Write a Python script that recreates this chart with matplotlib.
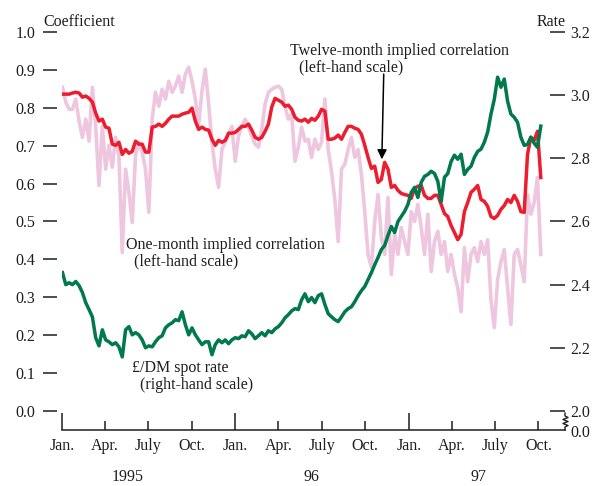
import matplotlib
matplotlib.use("Agg")
import matplotlib.pyplot as plt
import matplotlib.dates as mdates
import numpy as np
import pandas as pd

plt.rcParams['font.family'] = ['Liberation Serif', 'DejaVu Serif']
plt.rcParams['font.size'] = 11.5

# weekly observations, Jan. 1995 - Oct. 1997
weeks = pd.date_range('1995-01-02', periods=145, freq='7D')

# twelve-month implied correlation (left-hand scale)
twelve_month = [
    0.836, 0.836, 0.836, 0.839, 0.841, 0.839, 0.828, 0.831, 0.825, 0.815,
    0.786, 0.765, 0.770, 0.749, 0.746, 0.704, 0.701, 0.709, 0.677, 0.690,
    0.680, 0.685, 0.712, 0.704, 0.704, 0.683, 0.683, 0.749, 0.751, 0.757,
    0.751, 0.759, 0.770, 0.778, 0.778, 0.778, 0.783, 0.786, 0.788, 0.799,
    0.765, 0.743, 0.749, 0.743, 0.741, 0.717, 0.701, 0.714, 0.709, 0.714,
    0.733, 0.733, 0.735, 0.743, 0.751, 0.751, 0.757, 0.741, 0.722, 0.717,
    0.722, 0.738, 0.757, 0.802, 0.825, 0.820, 0.815, 0.804, 0.807, 0.796,
    0.775, 0.767, 0.765, 0.770, 0.762, 0.772, 0.767, 0.778, 0.796, 0.791,
    0.717, 0.717, 0.720, 0.728, 0.717, 0.735, 0.751, 0.751, 0.746, 0.743,
    0.730, 0.701, 0.669, 0.640, 0.646, 0.603, 0.611, 0.656, 0.638, 0.590,
    0.595, 0.582, 0.574, 0.571, 0.569, 0.561, 0.587, 0.593, 0.595, 0.569,
    0.561, 0.561, 0.569, 0.569, 0.545, 0.521, 0.513, 0.489, 0.471, 0.452,
    0.466, 0.526, 0.550, 0.577, 0.585, 0.595, 0.558, 0.553, 0.540, 0.513,
    0.508, 0.516, 0.532, 0.542, 0.558, 0.550, 0.569, 0.553, 0.526, 0.524,
    0.677, 0.722, 0.714, 0.738, 0.616,
]

# one-month implied correlation (left-hand scale)
one_month = [
    0.854, 0.815, 0.796, 0.796, 0.823, 0.765, 0.722, 0.770, 0.712, 0.854,
    0.751, 0.595, 0.751, 0.638, 0.701, 0.643, 0.722, 0.672, 0.418, 0.638,
    0.577, 0.497, 0.677, 0.709, 0.683, 0.638, 0.524, 0.770, 0.841, 0.804,
    0.849, 0.823, 0.870, 0.841, 0.857, 0.884, 0.841, 0.889, 0.907, 0.870,
    0.823, 0.757, 0.844, 0.902, 0.810, 0.709, 0.638, 0.590, 0.690, 0.709,
    0.730, 0.751, 0.659, 0.725, 0.751, 0.770, 0.749, 0.725, 0.704, 0.696,
    0.743, 0.810, 0.841, 0.849, 0.854, 0.857, 0.849, 0.802, 0.770, 0.783,
    0.659, 0.696, 0.749, 0.712, 0.717, 0.669, 0.717, 0.690, 0.709, 0.823,
    0.690, 0.632, 0.558, 0.447, 0.638, 0.651, 0.690, 0.722, 0.669, 0.690,
    0.624, 0.526, 0.413, 0.378, 0.500, 0.571, 0.458, 0.413, 0.563, 0.360,
    0.466, 0.413, 0.484, 0.447, 0.413, 0.526, 0.500, 0.545, 0.484, 0.413,
    0.519, 0.368, 0.447, 0.474, 0.413, 0.447, 0.368, 0.413, 0.360, 0.325,
    0.262, 0.431, 0.341, 0.413, 0.431, 0.394, 0.447, 0.413, 0.452, 0.294,
    0.220, 0.347, 0.394, 0.426, 0.325, 0.228, 0.413, 0.426, 0.386, 0.341,
    0.571, 0.519, 0.550, 0.616, 0.413,
]

# pound / DM spot rate (right-hand scale)
spot_rate = [
    2.438, 2.400, 2.406, 2.400, 2.410, 2.397, 2.375, 2.343, 2.321, 2.298,
    2.232, 2.206, 2.257, 2.225, 2.219, 2.210, 2.216, 2.203, 2.171, 2.257,
    2.267, 2.241, 2.248, 2.241, 2.225, 2.200, 2.206, 2.203, 2.219, 2.232,
    2.238, 2.263, 2.273, 2.279, 2.289, 2.286, 2.314, 2.273, 2.241, 2.263,
    2.241, 2.225, 2.210, 2.219, 2.219, 2.178, 2.210, 2.225, 2.216, 2.225,
    2.213, 2.225, 2.232, 2.229, 2.238, 2.235, 2.254, 2.244, 2.229, 2.238,
    2.248, 2.238, 2.254, 2.248, 2.260, 2.267, 2.279, 2.295, 2.305, 2.317,
    2.324, 2.321, 2.352, 2.371, 2.346, 2.359, 2.343, 2.365, 2.371, 2.337,
    2.308, 2.298, 2.289, 2.283, 2.298, 2.314, 2.324, 2.330, 2.346, 2.365,
    2.381, 2.394, 2.416, 2.438, 2.463, 2.486, 2.511, 2.524, 2.556, 2.584,
    2.565, 2.600, 2.616, 2.632, 2.654, 2.692, 2.708, 2.676, 2.724, 2.743,
    2.749, 2.759, 2.752, 2.727, 2.663, 2.740, 2.752, 2.790, 2.810, 2.797,
    2.813, 2.749, 2.765, 2.775, 2.803, 2.822, 2.829, 2.851, 2.883, 2.940,
    2.987, 3.057, 3.025, 3.051, 2.981, 2.940, 2.930, 2.914, 2.867, 2.841,
    2.844, 2.867, 2.848, 2.835, 2.902,
]

left_ticks = [0.0, 0.1, 0.2, 0.3, 0.4, 0.5, 0.6, 0.7, 0.8, 0.9, 1.0]
right_ticks = [2.0, 2.2, 2.4, 2.6, 2.8, 3.0, 3.2]
month_names = {1: 'Jan.', 4: 'Apr.', 7: 'July', 10: 'Oct.'}
year_labels = [('1995', '1995-05-20'), ('96', '1996-06-10'), ('97', '1997-05-28')]

RED = '#ED1C2E'
PINK = '#EEC6DF'
GREEN = '#00794C'
INK = '#1E1E1E'

fig = plt.figure(figsize=(5.95, 4.86), dpi=100)
ax = fig.add_axes([62 / 595, 1 - 430 / 486, 503 / 595, 398 / 486])
ax2 = ax.twinx()

ax.plot(weeks, one_month, color=PINK, lw=2.6, zorder=1)
ax.plot(weeks, twelve_month, color=RED, lw=2.5, zorder=2)
ax2.plot(weeks, spot_rate, color=GREEN, lw=2.5, zorder=3)

ax.set_xlim(pd.Timestamp('1995-01-01'), pd.Timestamp('1997-11-26'))
ax.set_ylim(-19 / 378, 1.0)
ax2.set_ylim(2.0 - 19 / 315, 3.2)

# left scale: detached dashes
for s in ['top', 'right', 'left']:
    ax.spines[s].set_visible(False)
ax.spines['left'].set_position(('outward', 3.6))
ax.spines['bottom'].set_linewidth(1.1)
ax.spines['bottom'].set_color(INK)
ax.set_yticks(left_ticks)
ax.set_yticklabels([f'{v:.1f}' for v in left_ticks])
ax.tick_params(axis='y', direction='out', length=10, width=1.1, pad=5.5,
               colors=INK)

# right scale
for s in ax2.spines.values():
    s.set_visible(False)
ax2.set_yticks(right_ticks)
ax2.set_yticklabels([f'{v:.1f}' for v in right_ticks])
ax2.tick_params(axis='y', direction='in', length=11, width=1.1, pad=4,
                colors=INK)
ax2.annotate('0.0', xy=(1, 0), xycoords='axes fraction', xytext=(4, -2),
             textcoords='offset points', ha='left', va='center', color=INK)

# axis break on the right scale
w_px, h_px = 503, 398
zig = [(0, 17), (0, 14), (3, 12.5), (-2, 10.5), (3, 8.5), (-2, 6.5), (3, 4.5), (0, 3), (0, 0)]
ax2.plot([1 + dx / w_px for dx, dy in zig], [dy / h_px for dx, dy in zig],
         transform=ax2.transAxes, color=INK, lw=1.0, clip_on=False)

# x axis: quarterly ticks pointing up
ax.xaxis.set_major_locator(mdates.YearLocator())
ax.xaxis.set_major_formatter(plt.FuncFormatter(lambda v, p: month_names[mdates.num2date(v).month]))
ax.xaxis.set_minor_locator(mdates.MonthLocator(bymonth=[4, 7, 10]))
ax.xaxis.set_minor_formatter(plt.FuncFormatter(lambda v, p: month_names[mdates.num2date(v).month]))
ax.tick_params(axis='x', which='major', direction='in', length=12, width=1.1, pad=6,
               colors=INK)
ax.tick_params(axis='x', which='minor', direction='in', length=6.5, width=1.1, pad=6,
               colors=INK, labelsize=11.5)

for label, d in year_labels:
    ax.annotate(label, xy=(pd.Timestamp(d), 0), xycoords=('data', 'axes fraction'),
                xytext=(0, -33.5), textcoords='offset points', ha='center', va='center',
                color=INK)

fig.text(43 / 595, 1 - 22 / 486, 'Coefficient', ha='left', va='center', color=INK)
fig.text(566 / 595, 1 - 22 / 486, 'Rate', ha='right', va='center', color=INK)

# series labels
ax.text(pd.Timestamp('1996-04-26'), 0.950, 'Twelve-month implied correlation',
        ha='left', va='center', color=INK)
ax.text(pd.Timestamp('1996-05-15'), 0.907, '(left-hand scale)', ha='left', va='center', color=INK)
ax.text(pd.Timestamp('1995-05-16'), 0.439, 'One-month implied correlation',
        ha='left', va='center', color=INK)
ax.text(pd.Timestamp('1995-06-02'), 0.394, '(left-hand scale)', ha='left', va='center', color=INK)
ax.text(pd.Timestamp('1995-05-28'), 0.114, '£/DM spot rate', ha='left', va='center', color=INK)
ax.text(pd.Timestamp('1995-06-15'), 0.069, '(right-hand scale)', ha='left', va='center', color=INK)

ax.annotate('', xy=(pd.Timestamp('1996-11-05'), 0.664), xytext=(pd.Timestamp('1996-11-09'), 0.889),
            arrowprops=dict(arrowstyle='-|>', color='black', lw=1.1,
                            mutation_scale=14, shrinkA=0, shrinkB=0), zorder=5)

fig.savefig('out.png', dpi=100)
